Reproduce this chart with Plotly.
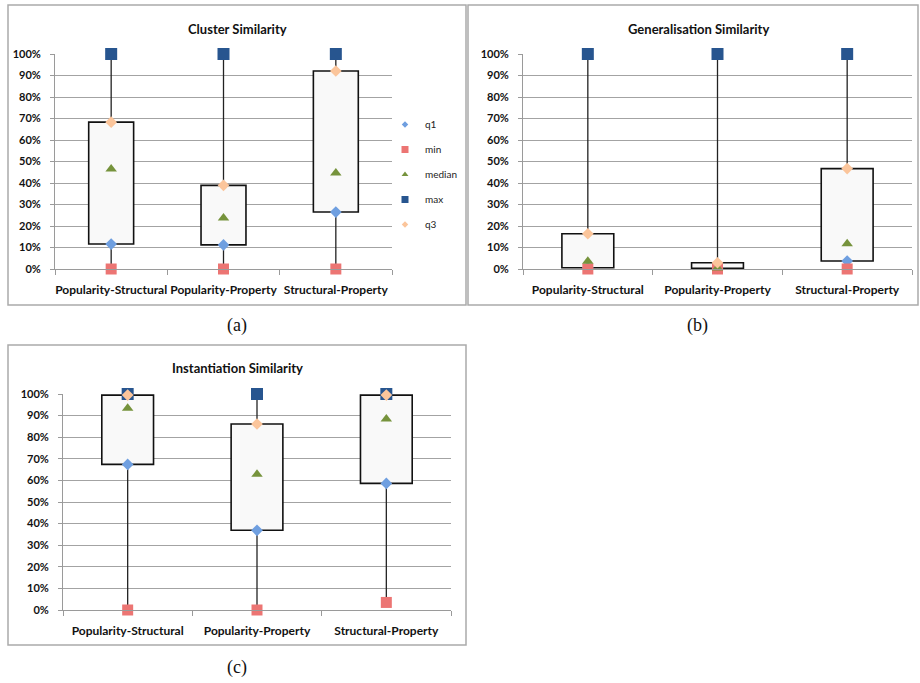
import plotly.graph_objects as go

categories = ["Popularity-Structural", "Popularity-Property", "Structural-Property"]
titles = ["Cluster Similarity", "Generalisation Similarity", "Instantiation Similarity"]
panel_labels = ["(a)", "(b)", "(c)"]

cluster_min = [0.0, 0.0, 0.0]
cluster_q1 = [0.116, 0.112, 0.265]
cluster_median = [0.465, 0.237, 0.447]
cluster_q3 = [0.683, 0.389, 0.921]
cluster_max = [1.0, 1.0, 1.0]

gen_min = [0.0, 0.0, 0.0]
gen_q1 = [0.006, 0.003, 0.037]
gen_median = [0.036, 0.005, 0.118]
gen_q3 = [0.164, 0.029, 0.467]
gen_max = [1.0, 1.0, 1.0]

inst_min = [0.0, 0.0, 0.035]
inst_q1 = [0.674, 0.369, 0.586]
inst_median = [0.934, 0.628, 0.884]
inst_q3 = [0.995, 0.861, 0.995]
inst_max = [1.0, 1.0, 1.0]

y_ticks = [0, 0.1, 0.2, 0.3, 0.4, 0.5, 0.6, 0.7, 0.8, 0.9, 1.0]

panels = [
    dict(mn=cluster_min, q1=cluster_q1, med=cluster_median, q3=cluster_q3, mx=cluster_max),
    dict(mn=gen_min, q1=gen_q1, med=gen_median, q3=gen_q3, mx=gen_max),
    dict(mn=inst_min, q1=inst_q1, med=inst_median, q3=inst_q3, mx=inst_max),
]

W, H = 920, 683
def px(x):
    return x / W
def py(y):
    return 1 - y / H

# plot areas in pixels: (left, right, top(100%), bottom(0%))
areas = [(55, 392, 54, 269), (523, 912, 54, 269), (63, 451, 394, 610)]
frames = [(8, 466, 5, 305), (468, 918, 5, 305), (8, 466, 345, 645)]
title_pos = [(237, 29), (698, 29), (237, 368)]
label_pos = [(237, 325), (697, 325), (237, 667)]

COL_Q1 = "#6f9fe0"
COL_MIN = "#ec7573"
COL_MED = "#76933c"
COL_MAX = "#27558f"
COL_Q3 = "#fbc59b"

xs = [0, 1, 2]
fig = go.Figure()

for i, p in enumerate(panels):
    xa = "x" if i == 0 else f"x{i+1}"
    ya = "y" if i == 0 else f"y{i+1}"
    # box
    fig.add_trace(go.Bar(
        x=xs, y=[b - a for a, b in zip(p["q1"], p["q3"])], base=p["q1"], width=0.4,
        marker=dict(color="#f9f9f9", line=dict(color="#111111", width=1.6)),
        xaxis=xa, yaxis=ya, showlegend=False, hoverinfo="skip"))
    # whiskers
    wx, wy = [], []
    for k in xs:
        wx += [k, k, None, k, k, None]
        wy += [p["mn"][k], p["q1"][k], None, p["q3"][k], p["mx"][k], None]
    fig.add_trace(go.Scatter(x=wx, y=wy, mode="lines", line=dict(color="#222222", width=1.3),
                             xaxis=xa, yaxis=ya, showlegend=False, hoverinfo="skip", cliponaxis=False))
    specs = [("q1", p["q1"], "diamond", COL_Q1, 9),
             ("min", p["mn"], "square", COL_MIN, 11),
             ("median", p["med"], "triangle-up", COL_MED, 10),
             ("max", p["mx"], "square", COL_MAX, 12),
             ("q3", p["q3"], "diamond", COL_Q3, 9)]
    for name, vals, sym, col, sz in specs:
        fig.add_trace(go.Scatter(x=xs, y=vals, mode="markers", name=name,
                                 marker=dict(symbol=sym, color=col, size=sz, line=dict(width=0)),
                                 xaxis=xa, yaxis=ya, showlegend=False, cliponaxis=False))

# legend-only entries (small glyphs, like the reference)
leg_specs = [("q1", "diamond", COL_Q1, 5), ("min", "square", COL_MIN, 7),
             ("median", "triangle-up", COL_MED, 6), ("max", "square", COL_MAX, 7),
             ("q3", "diamond", COL_Q3, 5)]
for name, sym, col, sz in leg_specs:
    fig.add_trace(go.Scatter(x=[None], y=[None], mode="markers", name=name, legendgroup=name,
                             marker=dict(symbol=sym, color=col, size=sz), showlegend=True))

layout = dict(
    template="none",
    width=W, height=H, margin=dict(l=0, r=0, t=0, b=0, pad=0), autosize=False,
    paper_bgcolor="white", plot_bgcolor="white",
    font=dict(family="Lato", color="#1a1a1a"),
    barmode="overlay",
    legend=dict(x=px(385), y=py(110), xanchor="left", yanchor="top",
                font=dict(family="Lato", size=10, color="#222222"),
                tracegroupgap=6, bgcolor="rgba(0,0,0,0)", itemwidth=30, borderwidth=0),
    shapes=[],
    annotations=[],
)

for i, (l, r, t, b) in enumerate(areas):
    sx = "" if i == 0 else str(i + 1)
    layout[f"xaxis{sx}"] = dict(
        domain=[px(l), px(r)], range=[-0.5, 2.5], anchor=f"y{sx}", automargin=False,
        tickmode="array", tickvals=xs, ticktext=categories, ticks="",
        tickfont=dict(family="Lato", size=12, color="#111111", weight="bold"),
        ticklabelstandoff=10,
        showline=True, linecolor="#9a9a9a", linewidth=1, showgrid=False, zeroline=False,
        minor=dict(tickmode="array", tickvals=[-0.5, 0.5, 1.5, 2.5], ticks="outside",
                   ticklen=5, tickcolor="#9a9a9a", showgrid=False),
        fixedrange=True)
    layout[f"yaxis{sx}"] = dict(
        domain=[py(b), py(t)], range=[0, 1], anchor=f"x{sx}", automargin=False,
        tickmode="array", tickvals=y_ticks, tickformat=".0%",
        tickfont=dict(family="Lato", size=11, color="#111111", weight="bold"),
        ticks="outside", ticklen=4, tickcolor="#9a9a9a", ticklabelstandoff=7,
        showline=True, linecolor="#9a9a9a", linewidth=1,
        showgrid=True, gridcolor="#a3a3a3", gridwidth=1, zeroline=False,
        fixedrange=True)

for i, (l, r, t, b) in enumerate(frames):
    layout["shapes"].append(dict(type="rect", xref="paper", yref="paper",
                                 x0=px(l), x1=px(r), y0=py(b), y1=py(t),
                                 line=dict(color="#ababab", width=1.5), fillcolor="rgba(0,0,0,0)"))
for i, (x, y) in enumerate(title_pos):
    layout["annotations"].append(dict(text=f"<b>{titles[i]}</b>", xref="paper", yref="paper",
                                      x=px(x), y=py(y), xanchor="center", yanchor="middle",
                                      showarrow=False, font=dict(family="Lato", size=13, color="#111111")))
for i, (x, y) in enumerate(label_pos):
    layout["annotations"].append(dict(text=panel_labels[i], xref="paper", yref="paper",
                                      x=px(x), y=py(y), xanchor="center", yanchor="middle",
                                      showarrow=False, font=dict(family="Liberation Serif", size=18, color="#111111")))

fig.update_layout(**layout)
fig.write_html("out.html", config={"displayModeBar": False},
               post_script="document.body.style.margin='0';document.body.style.padding='0';"
                           "document.documentElement.style.overflow='hidden';")
